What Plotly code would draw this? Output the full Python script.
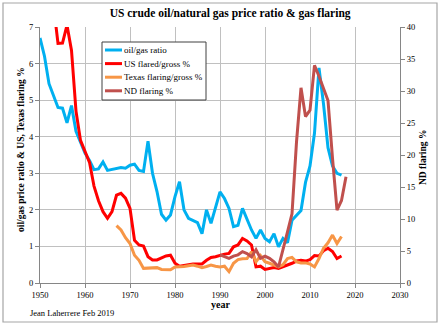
import plotly.graph_objects as go

# ---- data ----
ratio_years = list(range(1950, 2018))
oil_gas_ratio = [6.7, 6.2, 5.45, 5.1, 4.8, 4.78, 4.38, 4.85, 4.15, 3.85,
                 3.55, 3.35, 3.1, 3.12, 3.31, 3.08, 3.1, 3.14, 3.16, 3.14,
                 3.22, 3.25, 3.08, 3.05, 3.88, 3.0, 2.5, 1.88, 1.72, 1.86,
                 2.36, 2.77, 2.0, 1.77, 1.7, 1.65, 1.35, 2.0, 1.63, 2.04,
                 2.49, 2.31, 2.04, 1.54, 1.58, 2.04, 1.72, 1.45, 1.22, 1.45,
                 1.22, 1.13, 1.35, 0.99, 1.22, 1.1, 1.72, 1.86, 1.98, 2.75,
                 3.2, 4.1, 5.88, 4.9, 3.7, 3.2, 3.0, 2.95]

us_years = list(range(1953, 2018))
us_flared = [7.6, 6.55, 6.56, 7.05, 6.36, 4.7, 3.9, 3.6, 3.3, 2.65,
             2.25, 1.95, 1.77, 1.95, 2.4, 2.45, 2.32, 2.04, 1.17, 1.04,
             1.01, 0.72, 0.63, 0.63, 0.68, 0.74, 0.76, 0.54, 0.46, 0.49,
             0.5, 0.52, 0.52, 0.52, 0.62, 0.7, 0.72, 0.76, 0.79, 0.81,
             0.99, 1.04, 1.22, 1.15, 1.04, 0.44, 0.46, 0.37, 0.4, 0.42,
             0.4, 0.44, 0.49, 0.54, 0.6, 0.62, 0.6, 0.64, 0.75, 0.74,
             0.88, 0.95, 0.86, 0.67, 0.74]

tx_years = list(range(1967, 2018))
texas_flaring = [1.57, 1.45, 1.24, 1.08, 0.76, 0.62, 0.4, 0.4, 0.41, 0.42,
                 0.37, 0.36, 0.36, 0.44, 0.44, 0.45, 0.47, 0.49, 0.46, 0.42,
                 0.45, 0.49, 0.46, 0.44, 0.46, 0.31, 0.54, 0.64, 0.66, 0.67,
                 0.85, 0.58, 0.75, 0.58, 0.54, 0.5, 0.44, 0.5, 0.67, 0.7,
                 0.58, 0.55, 0.55, 0.52, 0.44, 0.67, 0.95, 1.1, 1.31, 1.08,
                 1.27]

nd_years = list(range(1990, 2019))
nd_flaring = [4.4, 4.1, 3.85, 4.2, 4.4, 4.9, 4.6, 4.1, 5.2, 3.85,
              4.2, 3.85, 3.3, 2.5, 5.5, 8.0, 10.8, 22.0, 30.5, 26.0,
              27.0, 34.0, 32.3, 30.5, 28.5, 19.5, 11.4, 12.9, 16.6]

x_ticks = [1950, 1960, 1970, 1980, 1990, 2000, 2010, 2020, 2030]

series_names = ["oil/gas ratio", "US flared/gross %", "Texas flaring/gross %", "ND flaring %"]
series_colors = ["#00B0F0", "#FF0000", "#F79646", "#C0504D"]

FONT = "Liberation Serif"
GRID = "#c0c0c0"
AXIS = "#868686"

# pixel -> paper helpers (plot area: x 40..400, y 27..283)
def px(x):
    return (x - 40) / 360


def py(y):
    return (283 - y) / 256


fig = go.Figure()
data = [(ratio_years, oil_gas_ratio, "y"), (us_years, us_flared, "y"),
        (tx_years, texas_flaring, "y"), (nd_years, nd_flaring, "y2")]
for (xs, ys, ax), name, col in zip(data, series_names, series_colors):
    fig.add_trace(go.Scatter(x=xs, y=ys, name=name, mode="lines",
                             line=dict(color=col, width=3), yaxis=ax))

fig.update_layout(
    width=440, height=328,
    margin=dict(l=40, r=40, t=27, b=45),
    paper_bgcolor="white", plot_bgcolor="white",
    font=dict(family=FONT, size=9, color="black"),
    title=dict(text="<b>US crude oil/natural gas price ratio & gas flaring</b>",
               x=0.523, xanchor="center", y=1 - 13 / 328, yanchor="middle",
               font=dict(family=FONT, size=11.5, color="black")),
    xaxis=dict(range=[1950, 2030], tickvals=x_ticks, showgrid=True,
               gridcolor=GRID, gridwidth=1, showline=True, linecolor=AXIS,
               ticks="outside", ticklen=4, tickcolor=AXIS, zeroline=False,
               tickfont=dict(size=8.5, family=FONT)),
    yaxis=dict(range=[0, 7], dtick=1, showgrid=True, gridcolor=GRID,
               showline=True, linecolor=AXIS, ticks="outside", ticklen=4,
               tickcolor=AXIS, zeroline=False, tickfont=dict(size=8.5, family=FONT)),
    yaxis2=dict(range=[0, 40], dtick=5, overlaying="y", side="right",
                showgrid=False, showline=True, linecolor=AXIS, ticks="outside",
                ticklen=4, tickcolor=AXIS, zeroline=False,
                tickfont=dict(size=8.5, family=FONT)),
    showlegend=False,
)

# custom compact legend (Excel style)
fig.add_shape(type="rect", xref="paper", yref="paper",
              x0=px(102), x1=px(206), y0=py(100), y1=py(42),
              line=dict(color="#404040", width=1), fillcolor="white", layer="above")
for i, (name, col) in enumerate(zip(series_names, series_colors)):
    yy = 50 + i * 13.6
    fig.add_shape(type="line", xref="paper", yref="paper",
                  x0=px(105), x1=px(122), y0=py(yy), y1=py(yy),
                  line=dict(color=col, width=3), layer="above")
    fig.add_annotation(text=name, xref="paper", yref="paper", x=px(122), y=py(yy),
                       xanchor="left", yanchor="middle", showarrow=False,
                       font=dict(family=FONT, size=9, color="black"))

fig.add_annotation(text="<b>oil/gas price ratio & US, Texas flaring %</b>",
                   xref="paper", yref="paper", x=px(21), y=py(150),
                   textangle=-90, showarrow=False, xanchor="center", yanchor="middle",
                   font=dict(family=FONT, size=9.5))
fig.add_annotation(text="<b>ND flaring %</b>",
                   xref="paper", yref="paper", x=px(423), y=py(158),
                   textangle=-90, showarrow=False, xanchor="center", yanchor="middle",
                   font=dict(family=FONT, size=9.5))
fig.add_annotation(text="<b>year</b>", xref="paper", yref="paper",
                   x=px(220), y=py(304), showarrow=False,
                   xanchor="center", yanchor="middle", font=dict(family=FONT, size=10))
fig.add_annotation(text="Jean Laherrere Feb 2019", xref="paper", yref="paper",
                   x=px(28), y=py(313), showarrow=False,
                   xanchor="left", yanchor="middle", font=dict(family=FONT, size=8.5))

fig.add_shape(type="rect", xref="paper", yref="paper",
              x0=px(3), x1=px(437), y0=py(322), y1=py(3),
              line=dict(color="#a6a6a6", width=1.2), fillcolor="rgba(0,0,0,0)",
              layer="below")

fig.write_html("out.html")
